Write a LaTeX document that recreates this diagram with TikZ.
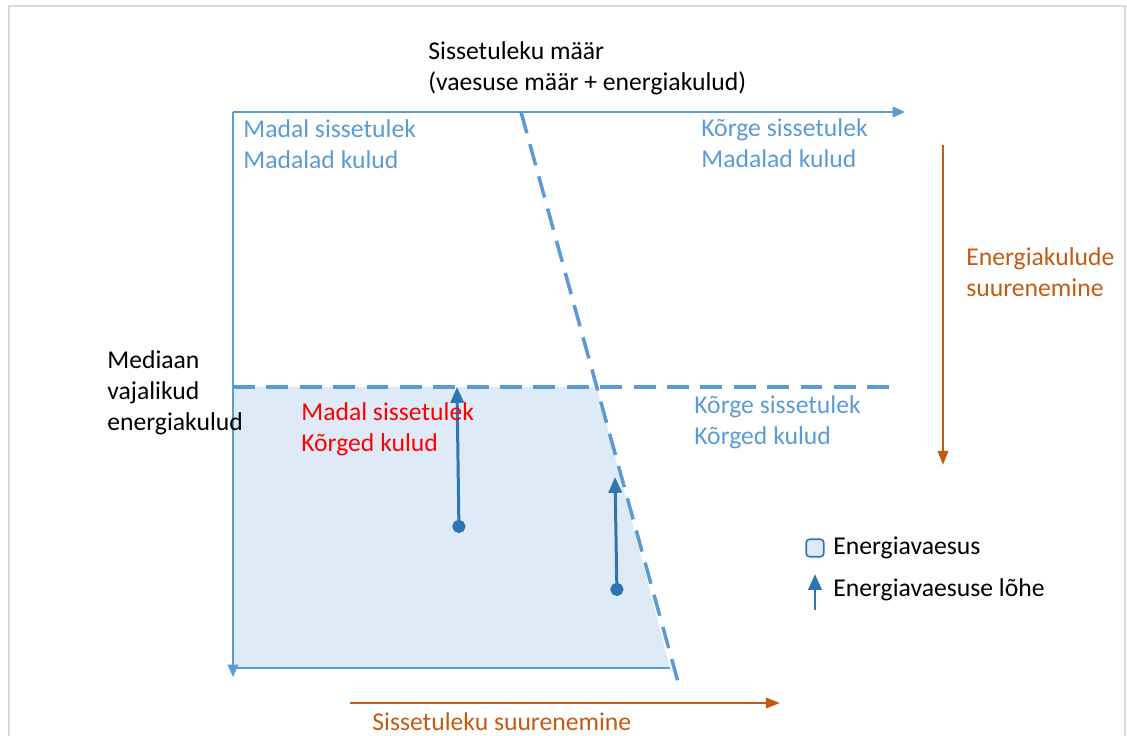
\documentclass[tikz,border=0pt]{standalone}
\usepackage{fontspec}
\setmainfont{Carlito}
\usepackage{tikz}
\usetikzlibrary{arrows.meta,positioning,calc}
\definecolor{axiscolor}{RGB}{91,155,213}
\definecolor{gapcolor}{RGB}{46,117,182}
\definecolor{trendcolor}{RGB}{197,90,17}
\definecolor{fillcolor}{RGB}{222,235,247}
\definecolor{framecolor}{RGB}{217,217,217}

\begin{document}
\begin{tikzpicture}[
    x=0.02cm, y=-0.02cm,
    every node/.style={font=\fontsize{14.6}{17.6}\selectfont, inner sep=0pt, align=left},
    axis/.style={axiscolor, line width=1.1pt, -{Triangle[length=7pt, width=6pt]}},
    border/.style={axiscolor, line width=2pt, dash pattern=on 12.5pt off 6.5pt},
    gap/.style={gapcolor, line width=1.7pt, {Circle[length=7.5pt]}-{Triangle[length=9pt, width=7.5pt]}},
    trend/.style={trendcolor, line width=1.1pt, -{Triangle[length=8pt, width=6pt]}},
    bluetext/.style={text=axiscolor, anchor=west},
    trendtext/.style={text=trendcolor, anchor=west}
]
\useasboundingbox (0,0) rectangle (1127,736);

% Frame
\draw[framecolor, line width=1.4pt] (9,736) -- (9,6) -- (1125,6) -- (1125,736);

% Key points
\coordinate (origin) at (233,112);
\coordinate (xend) at (905,112);
\coordinate (yend) at (233,677);
\coordinate (median) at (233,387);
\coordinate (medianend) at (900,387);
\coordinate (cross) at (597,387);
\coordinate (lowcorner) at (670,668);
\coordinate (base) at (233,668);
\coordinate (linetop) at (521,112);
\coordinate (linebottom) at (678,682);

% Energy poverty area
\fill[fillcolor] (median) -- (cross) -- (lowcorner) -- (base) -- cycle;
\draw[axiscolor, line width=1.1pt] (base) -- (lowcorner);

% Axes
\draw[axis] (origin) -- (xend);
\draw[axis] (origin) -- (yend);

% Dashed limits
\draw[border] (median) -- (medianend);
\draw[border] (linetop) -- (linebottom);

% Gap arrows
\coordinate (gapastart) at (459,533);
\coordinate (gapaend) at (457,387);
\coordinate (gapbstart) at (617,596);
\coordinate (gapbend) at (615,477);
\draw[gap] (gapastart) -- (gapaend);
\draw[gap] (gapbstart) -- (gapbend);

% Trend arrows
\coordinate (costtop) at (943,145);
\coordinate (costbottom) at (943,465);
\coordinate (incomeleft) at (350,703);
\coordinate (incomeright) at (780,703);
\draw[trend] (costtop) -- (costbottom);
\draw[trend] (incomeleft) -- (incomeright);

% Labels
\node[anchor=west] (title) at (428,68) {Sissetuleku määr\\(vaesuse määr + energiakulud)};
\node[bluetext] (lowlow) at (243,144) {Madal sissetulek\\Madalad kulud};
\node[bluetext] (highlow) at (701,143) {Kõrge sissetulek\\Madalad kulud};
\node[trendtext] (costlabel) at (966,272) {Energiakulude\\suurenemine};
\node[anchor=west] (medianlabel) at (107,393) {Mediaan\\vajalikud\\energiakulud};
\node[anchor=west, text=red] (lowhigh) at (301,429) {Madal sissetulek\\Kõrged kulud};
\node[bluetext] (highhigh) at (694,422) {Kõrge sissetulek\\Kõrged kulud};
\node[trendtext] (incomelabel) at (372,722) {Sissetuleku suurenemine};

% Legend
\node[draw=gapcolor, fill=fillcolor, line width=0.9pt, rounded corners=2pt,
      minimum size=10pt] (keyarea) at (815,548) {};
\node[anchor=west] (keyarealabel) at (833,548) {Energiavaesus};
\coordinate (keygapstart) at (815,610);
\coordinate (keygapend) at (815,574);
\draw[gapcolor, line width=1.7pt, -{Triangle[length=9pt, width=7.5pt]}] (keygapstart) -- (keygapend);
\node[anchor=west] (keygaplabel) at (833,590) {Energiavaesuse lõhe};

\end{tikzpicture}
\end{document}
